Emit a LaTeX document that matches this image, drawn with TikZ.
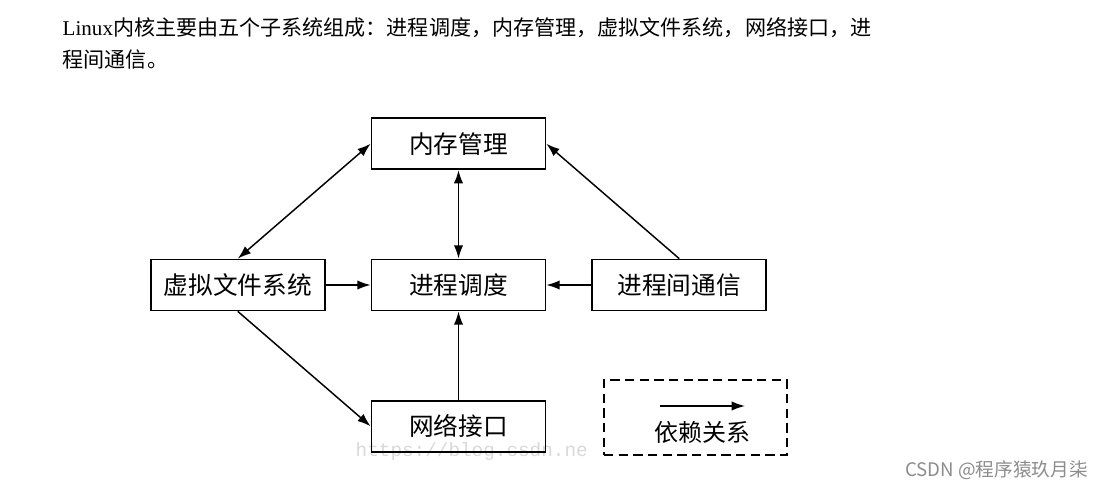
\documentclass[tikz,border=0pt]{standalone}
\usepackage{fontspec}
\setmainfont{Liberation Serif}
\newfontfamily\cjk{Noto Sans CJK SC}
\newfontfamily\wmmono{Liberation Mono}
\usetikzlibrary{arrows.meta, positioning}
\tikzstyle{subsys}=[draw, line width=1.3pt, minimum width=130.5pt, minimum height=38.25pt, inner sep=0pt, font=\cjk\fontsize{18.5}{20}\selectfont]
\tikzstyle{dep}=[line width=1.1pt, >={Latex[length=10pt,width=7pt]}]

\begin{document}
\begin{tikzpicture}[x=0.75pt, y=-0.75pt, dep]
  \useasboundingbox (0,0) rectangle (1107,493);
  \node[anchor=west, inner sep=0pt, font=\fontsize{15.8}{20}\selectfont] (intro1) at (62,28) {Linux{\cjk 内核主要由五个子系统组成：进程调度，内存管理，虚拟文件系统，网络接口，进}};
  \node[anchor=west, inner sep=0pt, font=\cjk\fontsize{15.8}{20}\selectfont] (intro2) at (62,60) {程间通信。};

  % watermark behind the boxes
  \node[anchor=west, inner sep=0pt, text=black!15, font=\wmmono\fontsize{14.5}{16}\selectfont] (wmurl) at (355,451) {https://blog.csdn.ne};

  \node[subsys, fill=white] (sched) at (458.5,285) {进程调度};
  \node[subsys] (mem) [above=66.4pt of sched] {内存管理};
  \node[subsys] (vfs) [left=33.75pt of sched] {虚拟文件系统};
  \node[subsys] (ipc) [right=33.75pt of sched] {进程间通信};
  \node[subsys] (net) [below=66.4pt of sched] {网络接口};
  \path[<->] (vfs.north) edge (mem.west);
  \path[<->] (mem) edge (sched);
  \path[->] (ipc.north) edge (mem.east);
  \path[->] (vfs) edge (sched);
  \path[->] (ipc) edge (sched);
  \path[->] (vfs.south) edge (net.west);
  \path[->] (net) edge (sched);

  % legend
  \node[draw, line width=1.3pt, dash pattern=on 7pt off 4pt, minimum width=137.25pt, minimum height=56.25pt] (legend) at (695.5,417.5) {};
  \coordinate (la) at (660,406);
  \coordinate (lb) at (745,406);
  \path[->] (la) edge (lb);
  \node[font=\cjk\fontsize{18}{20}\selectfont] (legtext) at (702,432) {依赖关系};

  \node[anchor=east, text=black!45, font=\cjk\fontsize{14}{16}\selectfont] (wmcsdn) at (1093,470) {CSDN @程序猿玖月柒};
\end{tikzpicture}
\end{document}
